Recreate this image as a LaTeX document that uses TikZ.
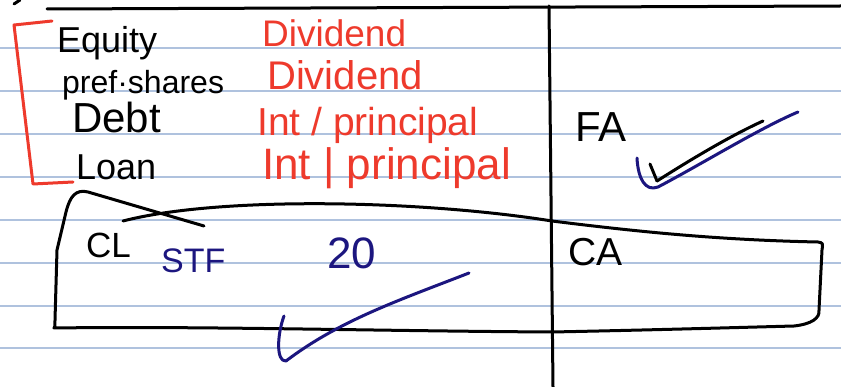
\documentclass[tikz,border=0pt]{standalone}
\usepackage{fontspec}
\setmainfont{Liberation Sans}
\definecolor{redink}{HTML}{EE3A2C}
\definecolor{blueink}{HTML}{1C167F}
\definecolor{ruleblue}{HTML}{AFC2DE}
\newcommand\hsz[1]{\fontsize{#1}{#1}\selectfont}
\begin{document}
\begin{tikzpicture}[x=1pt,y=-1pt,
  pen/.style={line width=3pt, line cap=round, line join=round},
  blackpen/.style={pen, draw=black},
  redpen/.style={pen, draw=redink},
  bluepen/.style={pen, draw=blueink},
  rulel/.style={draw=ruleblue, line width=1.2pt},
  lbl/.style={inner sep=0pt, anchor=base west},
  blk/.style={lbl, text=black},
  red/.style={lbl, text=redink},
  blu/.style={lbl, text=blueink}]
\useasboundingbox[fill=white] (0,0) rectangle (841,387);
% ruled paper
\foreach \yy in {48,91,134,177,220,263,306,348}
  \draw[rulel] (0,\yy) -- (841,\yy);
% top line and small stroke
\coordinate (tl) at (47,9);
\coordinate (tr) at (841,6);
\draw[blackpen] (tl) -- (tr);
\coordinate (s1) at (14,4);
\coordinate (s2) at (20,0);
\draw[blackpen] (s1) -- (s2);
% vertical divider
\coordinate (vt) at (549,6);
\coordinate (vb) at (553,387);
\draw[blackpen] (vt) -- (vb);
% red bracket
\coordinate (b1) at (52,21);
\coordinate (b2) at (14,25);
\coordinate (b3) at (33,184);
\coordinate (b4) at (73,182);
\draw[redpen] (b1) -- (b2) -- (b3) -- (b4);
% left column labels
\node[blk, font=\hsz{36}] (equity) at (57,53) {Equity};
\node[blk, font=\hsz{32}] (pref) at (62,94) {pref·shares};
\node[blk, font=\hsz{42}] (debt) at (72,133) {Debt};
\node[blk, font=\hsz{36}] (loan) at (76,180) {Loan};
% red column
\node[red, font=\hsz{37}] (div1) at (262,47) {Dividend};
\node[red, font=\hsz{40}] (div2) at (267,90) {Dividend};
\node[red, font=\hsz{39}] (int1) at (257,136) {Int / principal};
\node[red, font=\hsz{44}] (int2) at (262,180) {Int | principal};
% FA and checks
\node[blk, font=\hsz{42}] (fa) at (575,142) {FA};
\coordinate (c1) at (637,158);
\coordinate (c2) at (658,187);
\coordinate (c3) at (798,112);
\draw[bluepen] (c1) .. controls (638,178) and (645,192) .. (c2)
  .. controls (700,165) and (760,128) .. (c3);
\coordinate (k1) at (650,164);
\coordinate (k2) at (657,181);
\coordinate (k3) at (763,121);
\draw[blackpen] (k1) -- (k2);
\draw[blackpen] (k2) .. controls (690,160) and (730,136) .. (k3);
% CL/CA box
\coordinate (x1) at (204,226);
\coordinate (x2) at (88,192);
\coordinate (x3) at (57,250);
\coordinate (x4) at (54,328);
\coordinate (x5) at (552,332);
\coordinate (x6) at (794,326);
\coordinate (x8) at (552,221);
\coordinate (x9) at (123,221);
\draw[blackpen] (x1) -- (x2) .. controls (76,189) and (70,196) .. (66,212)
  -- (x3) -- (55,320) .. controls (55,327) .. (x4)
  .. controls (200,326) and (380,331) .. (x5)
  .. controls (650,330) and (720,328) .. (x6)
  .. controls (812,324) and (820,318) .. (819,310)
  -- (822,250) .. controls (823,243) .. (818,242)
  .. controls (720,240) and (640,232) .. (x8)
  .. controls (420,200) and (220,196) .. (x9);
\node[blk, font=\hsz{35}] (cl) at (86,258) {CL};
\node[blu, font=\hsz{34}] (stf) at (161,273) {STF};
\node[blu, font=\hsz{44}] (twenty) at (327,269) {20};
\node[blk, font=\hsz{39}] (ca) at (568,266) {CA};
% bottom check
\coordinate (d1) at (284,316);
\coordinate (d2) at (286,361);
\coordinate (d3) at (469,273);
\draw[bluepen] (d1) .. controls (277,335) and (276,362) .. (d2)
  .. controls (340,320) and (400,300) .. (d3);
\end{tikzpicture}
\end{document}
